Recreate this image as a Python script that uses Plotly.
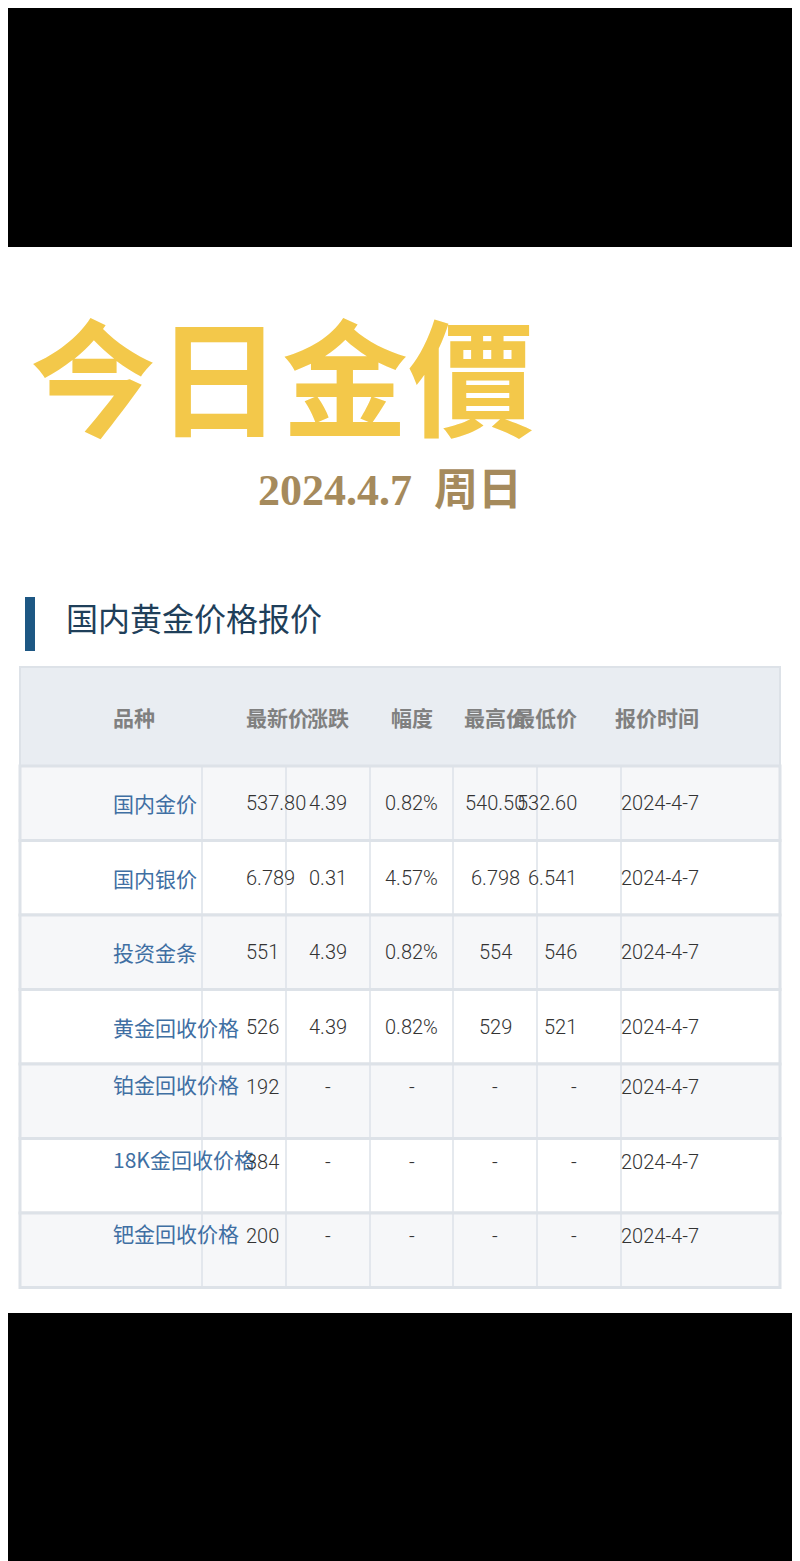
import plotly.graph_objects as go

headers = ['品种', '最新价', '涨跌', '幅度', '最高价', '最低价', '报价时间']
names = ['国内金价', '国内银价', '投资金条', '黄金回收价格', '铂金回收价格', '18K金回收价格', '钯金回收价格']
latest = ['537.80', '6.789', '551', '526', '192', '384', '200']
change = ['4.39', '0.31', '4.39', '4.39', '-', '-', '-']
pct = ['0.82%', '4.57%', '0.82%', '0.82%', '-', '-', '-']
high = ['540.50', '6.798', '554', '529', '-', '-', '-']
low = ['532.60', '6.541', '546', '521', '-', '-', '-']
dates = ['2024-4-7'] * 7

# page shows an 8px body offset, so work in reference pixels and shift
OFF = 8
W, H = 800 - OFF, 1561 - OFF


def px(x):
    return (x - OFF) / W


def py(y):
    return 1 - (y - OFF) / H


fig = go.Figure()
shapes = []
ann = []

shapes.append(dict(type='rect', x0=px(0), x1=1, y0=py(247), y1=1.01, fillcolor='black', line_width=0))
shapes.append(dict(type='rect', x0=px(0), x1=1, y0=-0.01, y1=py(1313), fillcolor='black', line_width=0))
shapes.append(dict(type='rect', x0=px(25), x1=px(35), y0=py(651), y1=py(597), fillcolor='#1d5783', line_width=0))

col_edges = [20, 202, 286, 370, 453, 537, 621, 780]
top, head_h, row_h = 667, 99, 74.5
n = len(names)
cols = [names, latest, change, pct, high, low, dates]

# header
shapes.append(dict(type='rect', x0=px(20), x1=px(780), y0=py(top + head_h), y1=py(top),
                   fillcolor='#e9edf2', line=dict(color='#dde2e8', width=2)))
for j, h in enumerate(headers):
    cx = (col_edges[j] + col_edges[j + 1]) / 2
    ann.append(dict(text=h, x=px(cx), y=py(top + head_h / 2), showarrow=False,
                    font=dict(family='Noto Sans CJK SC', size=21, color='#808080', weight='bold')))

for i in range(n):
    y0 = top + head_h + i * row_h
    fill = '#f6f7f9' if i % 2 == 0 else '#ffffff'
    shapes.append(dict(type='rect', x0=px(20), x1=px(780), y0=py(y0 + row_h), y1=py(y0),
                       fillcolor=fill, line=dict(color='#dde2e8', width=3)))
    for j in range(7):
        cx = (col_edges[j] + col_edges[j + 1]) / 2
        if j == 0:
            f = dict(family='Noto Sans CJK SC', size=21, color='#3f6fa3')
        else:
            f = dict(family='Roboto', size=20, color='#333333', weight=300)
        ann.append(dict(text=cols[j][i], x=px(cx), y=py(y0 + row_h / 2), showarrow=False, font=f))

bottom = top + head_h + n * row_h
for xe in col_edges[1:-1]:
    shapes.append(dict(type='line', x0=px(xe), x1=px(xe), y0=py(bottom), y1=py(top + head_h),
                       line=dict(color='#dde2e8', width=1.5)))

ann.append(dict(text='今日金價', x=px(28), y=py(372), xanchor='left', yanchor='middle', showarrow=False,
                font=dict(family='Noto Sans CJK TC', size=126, color='#f3c84a', weight='bold')))
ann.append(dict(text='2024.4.7  周日', x=px(256), y=py(490), xanchor='left', yanchor='middle', showarrow=False,
                font=dict(family='Liberation Serif, Noto Sans CJK SC', size=44, color='#a58a5c', weight='bold')))
ann.append(dict(text='国内黄金价格报价', x=px(64), y=py(617), xanchor='left', yanchor='middle', showarrow=False,
                font=dict(family='Noto Sans CJK SC', size=32, color='#1f3f5a')))

for s in shapes:
    s.update(xref='paper', yref='paper')
for a in ann:
    a.update(xref='paper', yref='paper')

fig.update_layout(width=W, height=H, margin=dict(l=0, r=0, t=0, b=0),
                  paper_bgcolor='white', plot_bgcolor='white', shapes=shapes, annotations=ann,
                  xaxis=dict(visible=False), yaxis=dict(visible=False))
fig.write_html('out.html')
